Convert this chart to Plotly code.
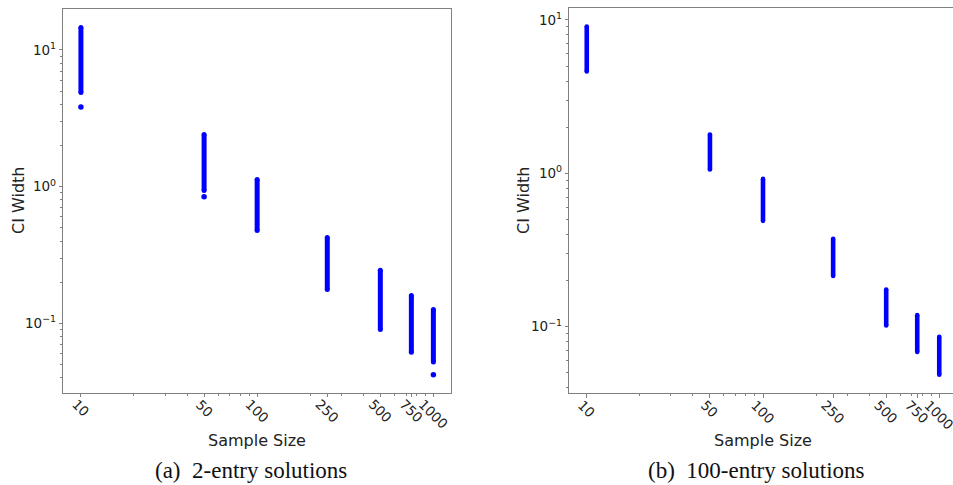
import math
import plotly.graph_objects as go

# ---------------- data ----------------
sizes = [10, 50, 100, 250, 500, 750, 1000]
size_labels = ["10", "50", "100", "250", "500", "750", "1000"]

# (a) 2-entry solutions: extent of each column of CI widths
a_low = [4.89, 0.938, 0.477, 0.177, 0.090, 0.0615, 0.052]
a_high = [14.6, 2.41, 1.13, 0.425, 0.244, 0.160, 0.126]
a_out_x = [10, 50, 1000]
a_out_y = [3.83, 0.845, 0.042]

# (b) 100-entry solutions
b_low = [4.62, 1.06, 0.49, 0.214, 0.102, 0.0685, 0.0487]
b_high = [9.06, 1.79, 0.92, 0.375, 0.175, 0.119, 0.086]

y_major = [0.1, 1, 10]
y_major_text = ["10<sup>\u22121</sup>", "10<sup>0</sup>", "10<sup>1</sup>"]

# ---------------- helpers ----------------
BLUE = "#0000ff"
AX = "#808080"
TXT = "#222222"
FONT = "DejaVu Sans"

def columns(xs, lows, highs):
    X, Y = [], []
    for x, lo, hi in zip(xs, lows, highs):
        X += [x, x, None]
        Y += [lo, hi, None]
    return X, Y

x_minor = [m * d for d in (10, 100) for m in range(2, 10) if m * d not in sizes]
y_minor = [m * d for d in (0.01, 0.1, 1, 10) for m in range(2, 10)]

fig = go.Figure()

ax, ay = columns(sizes, a_low, a_high)
fig.add_trace(go.Scatter(x=ax, y=ay, mode="lines+markers", xaxis="x", yaxis="y",
                         line=dict(color=BLUE, width=5),
                         marker=dict(color=BLUE, size=5), hoverinfo="skip"))
fig.add_trace(go.Scatter(x=a_out_x, y=a_out_y, mode="markers", xaxis="x", yaxis="y",
                         marker=dict(color=BLUE, size=5.5), hoverinfo="skip"))

bx, by = columns(sizes, b_low, b_high)
fig.add_trace(go.Scatter(x=bx, y=by, mode="lines+markers", xaxis="x2", yaxis="y2",
                         line=dict(color=BLUE, width=4.6),
                         marker=dict(color=BLUE, size=4.6), hoverinfo="skip"))

def xax(domain, rng, anchor):
    return dict(type="log", domain=domain, range=rng, anchor=anchor,
                showline=True, linecolor=AX, linewidth=1, mirror=True,
                ticks="outside", ticklen=3.5, tickwidth=1, tickcolor=AX,
                tickmode="array", tickvals=sizes, showticklabels=False,
                showgrid=False, zeroline=False,
                minor=dict(tickmode="array", tickvals=x_minor, ticks="outside",
                           ticklen=2, tickwidth=0.8, tickcolor=AX, showgrid=False))

def yax(domain, rng, anchor, mirror):
    return dict(type="log", domain=domain, range=rng, anchor=anchor,
                showline=True, linecolor=AX, linewidth=1, mirror=mirror,
                ticks="outside", ticklen=3.5, tickwidth=1, tickcolor=AX,
                tickmode="array", tickvals=y_major, ticktext=y_major_text,
                tickfont=dict(family=FONT, size=13.5, color=TXT),
                showgrid=False, zeroline=False,
                minor=dict(tickmode="array", tickvals=y_minor, ticks="outside",
                           ticklen=2, tickwidth=0.8, tickcolor=AX, showgrid=False))

W, H = 953, 485
fig.update_layout(
    width=W, height=H, margin=dict(l=0, r=0, t=0, b=0),
    paper_bgcolor="white", plot_bgcolor="white", showlegend=False,
    xaxis=xax([63.3 / W, 451 / W], [0.9, 3.1], "y"),
    yaxis=yax([(H - 392.7) / H, (H - 9) / H], [-1.508, 1.300], "x", True),
    xaxis2=xax([569.3 / W, 1.0], [0.901, 3.078], "y2"),
    yaxis2=yax([(H - 393.3) / H, (H - 8.3) / H], [-1.434, 1.076], "x2", False),
)

ann = []
for xr, ybot in (("x", (H - 392.7) / H), ("x2", (H - 393.3) / H)):
    for s, lab in zip(sizes, size_labels):
        ann.append(dict(x=math.log10(s), y=ybot, xref=xr, yref="paper",
                        text=lab, textangle=45, showarrow=False,
                        xanchor="center", yanchor="top", yshift=-1,
                        font=dict(family=FONT, size=13.5, color=TXT)))

for cx, cy_t in ((18, 201), (523, 201)):
    ann.append(dict(x=cx / W, y=(H - cy_t) / H, xref="paper", yref="paper",
                    text="CI Width", textangle=-90, showarrow=False,
                    xanchor="center", yanchor="middle",
                    font=dict(family=FONT, size=16, color=TXT)))
for cx in (257, 763):
    ann.append(dict(x=cx / W, y=(H - 440) / H, xref="paper", yref="paper",
                    text="Sample Size", showarrow=False,
                    xanchor="center", yanchor="middle",
                    font=dict(family=FONT, size=16, color=TXT)))
for cx, txt in ((251, "(a)\u00a0\u00a02-entry solutions"),
                (756, "(b)\u00a0\u00a0100-entry solutions")):
    ann.append(dict(x=cx / W, y=(H - 470) / H, xref="paper", yref="paper",
                    text=txt, showarrow=False,
                    xanchor="center", yanchor="middle",
                    font=dict(family="Liberation Serif", size=23, color="#111111")))

fig.update_layout(annotations=ann)
fig.write_html("out.html", config={"displayModeBar": False},
               post_script="document.body.style.margin='0';document.body.style.overflow='hidden';")
